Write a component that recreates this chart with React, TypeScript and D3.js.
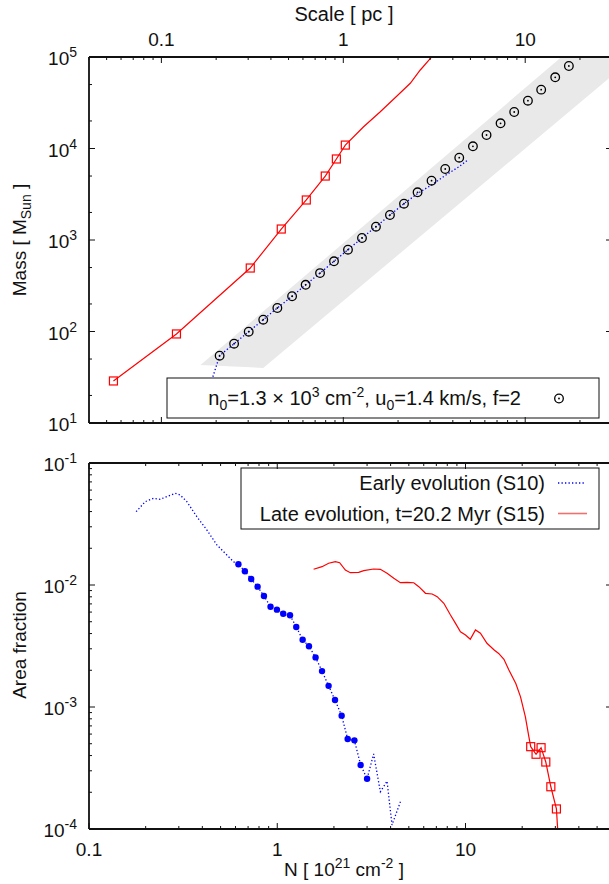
import React from "react";
import * as d3 from "d3";

// ---------- Top panel: cumulative mass vs. scale ----------
// Model band (edges given as straight lines in log-log space)
const bandPc = [0.164, 17, 40, 0.363];
const bandMass = [43, 113000, 100700, 40];

// Model points n0=1.3e3, u0=1.4 km/s, f=2
const modelPc = [
  0.209, 0.251, 0.302, 0.363, 0.434, 0.523, 0.621, 0.745, 0.889, 1.061, 1.267, 1.512, 1.805,
  2.156, 2.56, 3.056, 3.634, 4.339, 5.16, 6.13, 7.32, 8.7, 10.35, 12.24, 14.62, 17.38,
];
const modelMass = [
  54.4, 73.6, 99.5, 134.6, 180.7, 242.7, 324, 435, 585, 783, 1052, 1397, 1875, 2494, 3320, 4446,
  5970, 7930, 10570, 14050, 18850, 25060, 33300, 43950, 60000, 79700,
];

// Early evolution (dotted)
const earlyTopPc = [
  0.1745, 0.209, 0.251, 0.302, 0.363, 0.434, 0.523, 0.621, 0.745, 0.889, 1.061, 1.267, 1.512,
  1.805, 2.156, 2.56, 3.056, 3.634, 4.34, 4.78,
];
const earlyTopMass = [
  17.8, 54.4, 73.6, 99.5, 134.6, 180.7, 242.7, 324, 435, 585, 783, 1052, 1397, 1875, 2494, 3222,
  3992, 5070, 6357, 7360,
];

// Late evolution: sampled points (squares) and continuation
const lateTopPc = [0.0545, 0.121, 0.308, 0.456, 0.626, 0.796, 0.916, 1.026];
const lateTopMass = [28.8, 94, 494, 1318, 2737, 5000, 7680, 10900];
const lateTopTailPc = [1.293, 1.597, 1.972, 2.334, 2.65, 3.07];
const lateTopTailMass = [17300, 25240, 37500, 51600, 72100, 100700];

// ---------- Bottom panel: area fraction vs. column density ----------
const earlyHeadN = [0.178, 0.199, 0.22, 0.239, 0.259, 0.287, 0.305, 0.331, 0.374, 0.423, 0.478, 0.54, 0.586];
const earlyHeadA = [0.0399, 0.0482, 0.0514, 0.0504, 0.053, 0.0565, 0.0547, 0.0482, 0.0363, 0.0282, 0.0213, 0.0176, 0.0155];
const earlyDotN = [
  0.622, 0.673, 0.727, 0.786, 0.85, 0.921, 0.996, 1.076, 1.169, 1.262, 1.364, 1.474, 1.598, 1.729,
  1.874, 2.027, 2.198, 2.366, 2.569, 2.773, 3.0,
];
const earlyDotA = [
  0.01479, 0.01295, 0.0112, 0.00969, 0.00813, 0.00664, 0.00628, 0.00582, 0.00565, 0.00453,
  0.00356, 0.00315, 0.00255, 0.00197, 0.00149, 0.00114, 0.000849, 0.000547, 0.000533, 0.000335,
  0.000258,
];
const earlyTailN = [3.25, 3.53, 3.83, 4.07, 4.51];
const earlyTailA = [0.000412, 0.000202, 0.000247, 0.000108, 0.000167];

const lateN = [
  1.56, 1.729, 1.875, 2.035, 2.145, 2.3, 2.445, 2.707, 2.88, 3.25, 3.53, 3.83, 4.16, 4.51, 4.9,
  5.31, 5.65, 6.13, 6.65, 7.07, 7.67, 8.32, 8.85, 9.4, 10.0, 10.6, 11.3, 12.0, 13.0, 14.2, 15.0,
  16.0, 17.0, 18.5, 19.6, 20.8, 21.7,
];
const lateA = [
  0.01345, 0.01413, 0.01507, 0.01552, 0.01524, 0.01327, 0.01262, 0.01271, 0.0131, 0.01353,
  0.01345, 0.01247, 0.01135, 0.01044, 0.01052, 0.01044, 0.00969, 0.00855, 0.00844, 0.00802,
  0.00708, 0.00568, 0.00485, 0.00414, 0.00389, 0.00359, 0.00428, 0.00402, 0.00333, 0.00293,
  0.00275, 0.00246, 0.00201, 0.00156, 0.00121, 0.00083, 0.000571,
];
const lateSqN = [22.2, 23.7, 25.2, 26.7, 28.4, 30.4];
const lateSqA = [0.000473, 0.00041, 0.000464, 0.000354, 0.000222, 0.000146];
const lateEndN = [31.0];
const lateEndA = [0.00009];

const topTickLabels = [0.1, 1, 10];
const bottomTickLabels = [0.1, 1, 10];
const massExponents = [1, 2, 3, 4, 5];
const fracExponents = [-1, -2, -3, -4];

const FONT = "'Liberation Sans', Arial, Helvetica, sans-serif";
const RED = "#ff0000";
const BLUE = "#0000ff";
const INK = "#111";

const L = 89;
const R = 612;
const T1 = 57;
const B1 = 423;
const T2 = 463;
const B2 = 829;

const zip = (a: number[], b: number[]) => a.map((v, i) => [v, b[i]] as [number, number]);
const isDecade = (v: number) => Math.abs(Math.log10(v) - Math.round(Math.log10(v))) < 1e-6;
const mantissa = (v: number) => Math.round(v / Math.pow(10, Math.floor(Math.log10(v) + 1e-9)));

function TickSet({
  scale,
  orient,
  pos,
  filter,
}: {
  scale: d3.ScaleLogarithmic<number, number>;
  orient: "bottom" | "top" | "left" | "right";
  pos: number;
  filter?: (v: number) => boolean;
}) {
  const vals = scale.ticks().filter((v) => (filter ? filter(v) : true));
  return (
    <g stroke={INK} strokeWidth={1}>
      {vals.map((v, i) => {
        const len = isDecade(v) ? 6 : 3;
        const p = scale(v);
        if (orient === "bottom") return <line key={i} x1={p} x2={p} y1={pos} y2={pos - len} />;
        if (orient === "top") return <line key={i} x1={p} x2={p} y1={pos} y2={pos + len} />;
        if (orient === "left") return <line key={i} x1={pos} x2={pos + len} y1={p} y2={p} />;
        return <line key={i} x1={pos} x2={pos - len} y1={p} y2={p} />;
      })}
    </g>
  );
}

function Ring({ cx, cy }: { cx: number; cy: number }) {
  return (
    <g>
      <circle cx={cx} cy={cy} r={4.3} fill="none" stroke="#000" strokeWidth={1.3} />
      <circle cx={cx} cy={cy} r={0.9} fill="#000" />
    </g>
  );
}

function Square({ cx, cy }: { cx: number; cy: number }) {
  return <rect x={cx - 4} y={cy - 4} width={8} height={8} fill="none" stroke={RED} strokeWidth={1.2} />;
}

export default function App() {
  const x1 = d3.scaleLog().domain([0.04, 30]).range([L, R]);
  const y1 = d3.scaleLog().domain([10, 1e5]).range([B1, T1]);
  const x2 = d3.scaleLog().domain([0.1, 60]).range([L, R]);
  const y2 = d3.scaleLog().domain([1e-4, 1e-1]).range([B2, T2]);

  const line1 = d3
    .line<[number, number]>()
    .x((d) => x1(d[0]))
    .y((d) => y1(d[1]));
  const line2 = d3
    .line<[number, number]>()
    .x((d) => x2(d[0]))
    .y((d) => y2(d[1]));

  const band = zip(bandPc, bandMass);
  const model = zip(modelPc, modelMass);
  const earlyTop = zip(earlyTopPc, earlyTopMass);
  const lateTopSq = zip(lateTopPc, lateTopMass);
  const lateTop = [...lateTopSq, ...zip(lateTopTailPc, lateTopTailMass)];

  const earlyDots = zip(earlyDotN, earlyDotA);
  const early = [...zip(earlyHeadN, earlyHeadA), ...earlyDots, ...zip(earlyTailN, earlyTailA)];
  const lateSq = zip(lateSqN, lateSqA);
  const late = [...zip(lateN, lateA), ...lateSq, ...zip(lateEndN, lateEndA)];

  const dotted = "1.3 2.2";

  return (
    <svg
      width={609}
      height={884}
      style={{ position: "absolute", left: 0, top: 0, background: "#fff" }}
      fontFamily={FONT}
      fill={INK}
    >
      <defs>
        <clipPath id="clipTop">
          <rect x={L} y={T1} width={R - L} height={B1 - T1} />
        </clipPath>
        <clipPath id="clipBottom">
          <rect x={L} y={T2} width={R - L} height={B2 - T2} />
        </clipPath>
      </defs>

      {/* ================= Top panel ================= */}
      <g clipPath="url(#clipTop)">
        <path d={line1(band) + "Z"} fill="#e9e9e9" stroke="none" />
        <path d={line1(earlyTop) || ""} fill="none" stroke={BLUE} strokeWidth={1.3} strokeDasharray={dotted} />
        <path d={line1(lateTop) || ""} fill="none" stroke={RED} strokeWidth={1.2} />
        {lateTopSq.map((d, i) => (
          <Square key={i} cx={x1(d[0])} cy={y1(d[1])} />
        ))}
        {model.map((d, i) => (
          <Ring key={i} cx={x1(d[0])} cy={y1(d[1])} />
        ))}
      </g>

      {/* legend (opaque) */}
      <rect x={167} y={378} width={432} height={40} fill="#fff" stroke={INK} strokeWidth={1} />
      <text x={521} y={405} textAnchor="end" fontSize={20}>
        n<tspan dy={5} fontSize={14}>0</tspan>
        <tspan dy={-5}>=1.3 × 10</tspan>
        <tspan dy={-8} fontSize={14}>3</tspan>
        <tspan dy={8}>{" cm"}</tspan>
        <tspan dy={-8} fontSize={14}>-2</tspan>
        <tspan dy={8}>{", u"}</tspan>
        <tspan dy={5} fontSize={14}>0</tspan>
        <tspan dy={-5}>=1.4 km/s, f=2</tspan>
      </text>
      <Ring cx={559} cy={398.5} />

      {/* axes frame */}
      <g stroke={INK} strokeWidth={1.8} fill="none">
        <line x1={L} x2={R} y1={T1} y2={T1} />
        <line x1={L} x2={R} y1={B1} y2={B1} />
        <line x1={L} x2={L} y1={T1} y2={B1} />
        <line x1={R} x2={R} y1={T1} y2={B1} />
      </g>
      <TickSet scale={x1} orient="top" pos={T1} />
      <TickSet scale={x1} orient="bottom" pos={B1} />
      <TickSet scale={y1} orient="left" pos={L} filter={(v) => [1, 2, 5].includes(mantissa(v))} />
      <TickSet scale={y1} orient="right" pos={R} filter={(v) => [1, 2, 5].includes(mantissa(v))} />

      {topTickLabels.map((v) => (
        <text key={v} x={x1(v)} y={46} textAnchor="middle" fontSize={19}>
          {String(v)}
        </text>
      ))}
      <text x={344} y={21} textAnchor="middle" fontSize={20}>
        Scale [ pc ]
      </text>
      {massExponents.map((e) => (
        <text key={e} x={77} y={y1(Math.pow(10, e)) + 8} textAnchor="end" fontSize={19}>
          10<tspan dy={-8} fontSize={14}>{e}</tspan>
        </text>
      ))}
      <text transform="translate(26,240) rotate(-90)" textAnchor="middle" fontSize={19}>
        Mass [ M<tspan dy={5} fontSize={14}>Sun</tspan>
        <tspan dy={-5}>{" ]"}</tspan>
      </text>

      {/* ================= Bottom panel ================= */}
      <g clipPath="url(#clipBottom)">
        <path d={line2(early) || ""} fill="none" stroke={BLUE} strokeWidth={1.3} strokeDasharray={dotted} />
        {earlyDots.map((d, i) => (
          <circle key={i} cx={x2(d[0])} cy={y2(d[1])} r={3.2} fill={BLUE} />
        ))}
        <path d={line2(late) || ""} fill="none" stroke={RED} strokeWidth={1.2} />
        {lateSq.map((d, i) => (
          <Square key={i} cx={x2(d[0])} cy={y2(d[1])} />
        ))}
      </g>

      <rect x={241} y={468} width={358} height={61} fill="#fff" stroke={INK} strokeWidth={1} />
      <text x={545} y={490} textAnchor="end" fontSize={20}>
        Early evolution (S10)
      </text>
      <text x={545} y={521} textAnchor="end" fontSize={20}>
        Late evolution, t=20.2 Myr (S15)
      </text>
      <line x1={558} x2={586} y1={483} y2={483} stroke={BLUE} strokeWidth={1.3} strokeDasharray={dotted} />
      <line x1={558} x2={587} y1={513.5} y2={513.5} stroke="#f07070" strokeWidth={1.6} />

      <g stroke={INK} strokeWidth={1.8} fill="none">
        <line x1={L} x2={R} y1={T2} y2={T2} />
        <line x1={L} x2={R} y1={B2} y2={B2} />
        <line x1={L} x2={L} y1={T2} y2={B2} />
        <line x1={R} x2={R} y1={T2} y2={B2} />
      </g>
      <TickSet scale={x2} orient="top" pos={T2} />
      <TickSet scale={x2} orient="bottom" pos={B2} />
      <TickSet scale={y2} orient="left" pos={L} />
      <TickSet scale={y2} orient="right" pos={R} />

      {fracExponents.map((e) => (
        <text key={e} x={77} y={y2(Math.pow(10, e)) + 8} textAnchor="end" fontSize={19}>
          10<tspan dy={-8} fontSize={14}>{e}</tspan>
        </text>
      ))}
      <text transform="translate(26,645) rotate(-90)" textAnchor="middle" fontSize={19}>
        Area fraction
      </text>
      {bottomTickLabels.map((v) => (
        <text key={v} x={x2(v)} y={856} textAnchor="middle" fontSize={19}>
          {String(v)}
        </text>
      ))}
      <text x={344} y={876} textAnchor="middle" fontSize={19}>
        N [ 10<tspan dy={-8} fontSize={14}>21</tspan>
        <tspan dy={8}>{" cm"}</tspan>
        <tspan dy={-8} fontSize={14}>-2</tspan>
        <tspan dy={8}>{" ]"}</tspan>
      </text>
    </svg>
  );
}
